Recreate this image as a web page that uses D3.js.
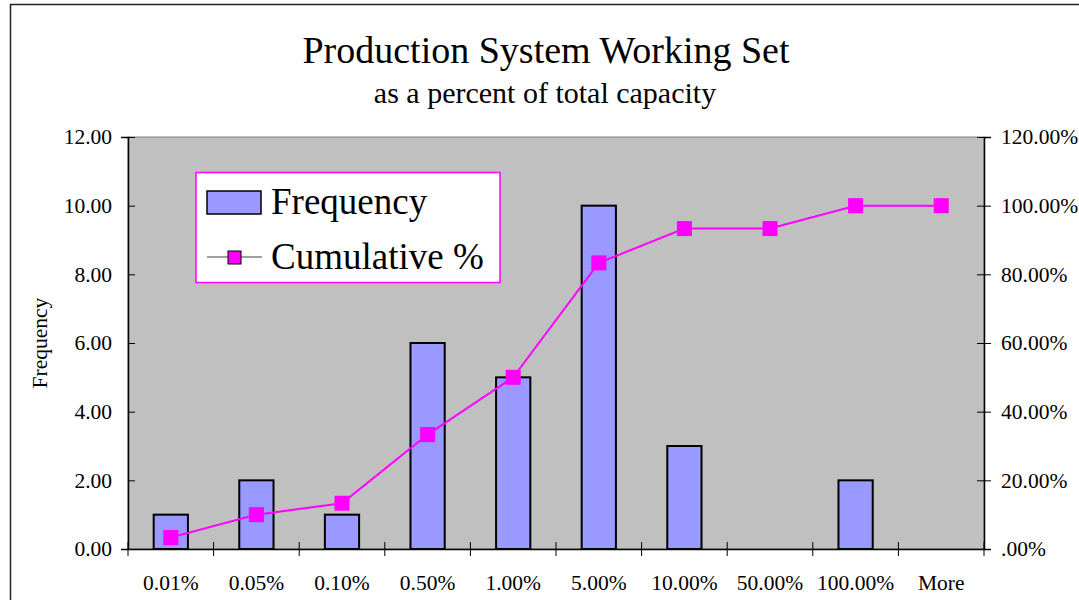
<!DOCTYPE html>
<html lang="en">

<head>
	<meta charset="utf-8">
	<title>Production System Working Set</title>
	<script src="https://cdn.jsdelivr.net/npm/d3@7"></script>
	<style>
		html, body { margin: 0; padding: 0; background: #ffffff; }
		svg text { font-family: "Liberation Serif", "Times New Roman", serif; fill: #000; }
	</style>
</head>

<body>
	<script>

		const categories = ["0.01%", "0.05%", "0.10%", "0.50%", "1.00%", "5.00%", "10.00%", "50.00%", "100.00%", "More"];
		const frequency = [1, 2, 1, 6, 5, 10, 3, 0, 2, 0];
		const cumulative = [3.33, 10.00, 13.33, 33.33, 50.00, 83.33, 93.33, 93.33, 100.00, 100.00];
		const leftTicks = [0, 2, 4, 6, 8, 10, 12];
		const rightTicks = [0, 20, 40, 60, 80, 100, 120];

		const W = 1079, H = 600;
		const plot = { left: 128, right: 984, top: 137, bottom: 549 };

		const svg = d3.select("body").append("svg")
			.attr("width", W)
			.attr("height", H);

		// outer chart frame (runs off the right and bottom edge)
		svg.append("rect")
			.attr("x", 10.5).attr("y", 4.5)
			.attr("width", W + 20).attr("height", H + 20)
			.attr("fill", "#fff")
			.attr("stroke", "#222")
			.attr("stroke-width", 1.5);

		const xb = d3.scaleBand()
			.domain(categories)
			.range([plot.left, plot.right]);
		const yL = d3.scaleLinear().domain([0, 12]).range([plot.bottom, plot.top]);
		const yR = d3.scaleLinear().domain([0, 120]).range([plot.bottom, plot.top]);

		// plot area
		svg.append("rect")
			.attr("x", plot.left).attr("y", plot.top)
			.attr("width", plot.right - plot.left)
			.attr("height", plot.bottom - plot.top)
			.attr("fill", "#c0c0c0")
			.attr("stroke", "#808080")
			.attr("stroke-width", 1);

		// bars
		svg.append("g").selectAll("rect")
			.data(frequency)
			.join("rect")
			.attr("x", (d, i) => xb(categories[i]) + xb.bandwidth() * 0.3)
			.attr("width", xb.bandwidth() * 0.4)
			.attr("y", d => yL(d))
			.attr("height", d => yL(0) - yL(d))
			.attr("fill", d => d > 0 ? "#9999ff" : "none")
			.attr("stroke", d => d > 0 ? "#000" : "none")
			.attr("stroke-width", 2);

		// axes
		const tickFmtL = d3.format(".2f");
		const tickFmtR = d => d === 0 ? ".00%" : d3.format(".2f")(d) + "%";

		const gL = svg.append("g")
			.attr("transform", `translate(${plot.left},0)`)
			.call(d3.axisLeft(yL).tickValues(leftTicks).tickFormat(tickFmtL).tickSize(7).tickPadding(9));
		const gR = svg.append("g")
			.attr("transform", `translate(${plot.right},0)`)
			.call(d3.axisRight(yR).tickValues(rightTicks).tickFormat(tickFmtR).tickSize(7).tickPadding(10));
		gR.selectAll(".tick line").attr("x1", -7);
		gL.selectAll(".tick line").attr("x2", 7);

		const gB = svg.append("g")
			.attr("transform", `translate(0,${plot.bottom})`)
			.call(d3.axisBottom(xb).tickSize(0).tickPadding(26));

		// category boundary ticks on the x axis
		gB.selectAll(".sep")
			.data(categories.concat([null]))
			.join("line")
			.attr("class", "sep")
			.attr("x1", (d, i) => plot.left + i * xb.step())
			.attr("x2", (d, i) => plot.left + i * xb.step())
			.attr("y1", -7).attr("y2", 7)
			.attr("stroke", "#000");

		[gL, gR, gB].forEach(g => {
			g.selectAll(".domain").attr("stroke", "#000").attr("stroke-width", 1.5);
			g.selectAll(".tick line").attr("stroke", "#000");
			g.selectAll("text")
				.attr("font-family", "Liberation Serif, Times New Roman, serif")
				.attr("font-size", 21.5)
				.attr("fill", "#000");
		});

		// cumulative line
		const line = d3.line()
			.x((d, i) => xb(categories[i]) + xb.bandwidth() / 2)
			.y(d => yR(d));

		svg.append("path")
			.datum(cumulative)
			.attr("d", line)
			.attr("fill", "none")
			.attr("stroke", "#ff00ff")
			.attr("stroke-width", 2);

		svg.append("g").selectAll("rect")
			.data(cumulative)
			.join("rect")
			.attr("x", (d, i) => xb(categories[i]) + xb.bandwidth() / 2 - 7.5)
			.attr("y", d => yR(d) - 7.5)
			.attr("width", 15).attr("height", 15)
			.attr("fill", "#ff00ff");

		// titles
		svg.append("text")
			.attr("x", 546).attr("y", 63)
			.attr("text-anchor", "middle")
			.attr("font-size", 38)
			.text("Production System Working Set");
		svg.append("text")
			.attr("x", 545).attr("y", 103)
			.attr("text-anchor", "middle")
			.attr("font-size", 30)
			.text("as a percent of total capacity");

		svg.append("text")
			.attr("transform", "translate(47,343) rotate(-90)")
			.attr("text-anchor", "middle")
			.attr("font-size", 21.5)
			.text("Frequency");

		// legend
		const lg = svg.append("g");
		lg.append("rect")
			.attr("x", 196).attr("y", 172.5)
			.attr("width", 304).attr("height", 110)
			.attr("fill", "#fff")
			.attr("stroke", "#ff00ff")
			.attr("stroke-width", 1.5);
		lg.append("rect")
			.attr("x", 207).attr("y", 191)
			.attr("width", 54).attr("height", 23)
			.attr("fill", "#9999ff")
			.attr("stroke", "#000")
			.attr("stroke-width", 1.5);
		lg.append("text")
			.attr("x", 271).attr("y", 214)
			.attr("font-size", 37)
			.text("Frequency");
		lg.append("line")
			.attr("x1", 207).attr("x2", 262)
			.attr("y1", 257).attr("y2", 257)
			.attr("stroke", "#808080")
			.attr("stroke-width", 1.5);
		lg.append("rect")
			.attr("x", 228).attr("y", 251)
			.attr("width", 13).attr("height", 13)
			.attr("fill", "#ff00ff")
			.attr("stroke", "#000")
			.attr("stroke-width", 1);
		lg.append("text")
			.attr("x", 271).attr("y", 269)
			.attr("font-size", 37)
			.text("Cumulative %");

	</script>
</body>

</html>
